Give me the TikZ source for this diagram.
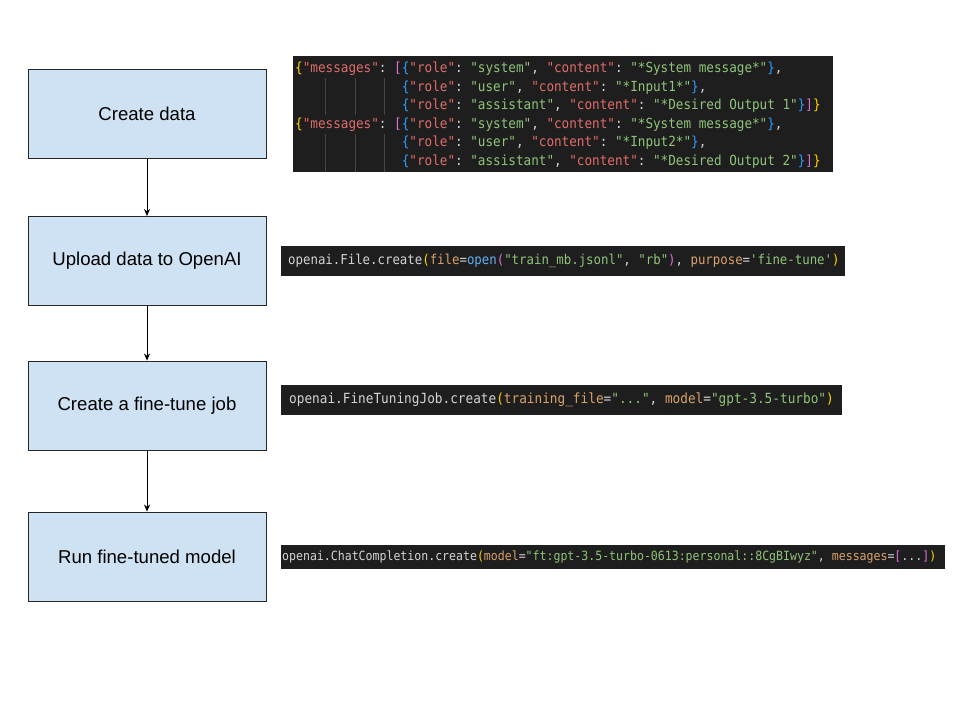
\documentclass[tikz,border=0pt]{standalone}
\usepackage{fontspec}
\setmainfont{Liberation Sans}
\setmonofont{DejaVu Sans Mono}[FakeStretch=0.91]
\usetikzlibrary{arrows.meta}
\definecolor{boxfill}{HTML}{CFE2F3}
\definecolor{codebg}{HTML}{1E1E1E}
\definecolor{ckey}{HTML}{E06C6C}
\definecolor{cstr}{HTML}{8FC47A}
\definecolor{cyel}{HTML}{FFD700}
\definecolor{cmag}{HTML}{DA70D6}
\definecolor{cblu}{HTML}{2F9BFF}
\definecolor{cpl}{HTML}{D4D4D4}
\definecolor{corg}{HTML}{D7A26C}
\definecolor{cfun}{HTML}{61AFEF}
\definecolor{cguide}{HTML}{454545}
\newcommand\K[1]{\textcolor{ckey}{#1}}
\newcommand\St[1]{\textcolor{cstr}{#1}}
\newcommand\Y[1]{\textcolor{cyel}{#1}}
\newcommand\M[1]{\textcolor{cmag}{#1}}
\newcommand\B[1]{\textcolor{cblu}{#1}}
\newcommand\Or[1]{\textcolor{corg}{#1}}
\newcommand\Fn[1]{\textcolor{cfun}{#1}}
\begin{document}
\begin{tikzpicture}[x=1pt,y=-1pt,
  stepbox/.style={draw=black!85,line width=0.9pt,fill=boxfill,minimum width=238pt,minimum height=89pt,inner sep=0pt,font=\fontsize{18.6}{22}\selectfont},
  codeline/.style={anchor=west,inner sep=0pt,text=cpl},
  flow/.style={draw=black,line width=0.8pt,-{Stealth[length=7pt,width=6pt]}},
  guide/.style={draw=cguide,line width=0.7pt}]
\useasboundingbox (0,0) rectangle (960,720);
\fill[white] (0,0) rectangle (960,720);

% flow boxes
\node[stepbox] (s1) at (147,114) {Create data};
\node[stepbox] (s2) at (147,261) {Upload data to OpenAI};
\node[stepbox] (s3) at (147,405.5) {Create a fine-tune job};
\node[stepbox] (s4) at (147,556.5) {Run fine-tuned model};
\draw[flow] (s1.south) -- (s2.north);
\draw[flow] (s2.south) -- (s3.north);
\draw[flow] (s3.south) -- (s4.north);

% code block 1
\fill[codebg] (293,56) rectangle (833,172);
\draw[guide] (325,78) -- (325,115) (355,78) -- (355,115) (384,78) -- (384,115);
\draw[guide] (325,134) -- (325,172) (355,134) -- (355,172) (384,134) -- (384,172);
\begin{scope}[every node/.style={codeline,font=\ttfamily\fontsize{13.9}{16}\selectfont}]
\node (c1a) at (295,69) {\Y{\{}\K{"messages"}: \M{[}\B{\{}\K{"role"}: \St{"system"}, \K{"content"}: \St{"*System message*"}\B{\}},};
\node (c1b) at (295,87.5) {\hphantom{\{"messages": [}\B{\{}\K{"role"}: \St{"user"}, \K{"content"}: \St{"*Input1*"}\B{\}},};
\node (c1c) at (295,106) {\hphantom{\{"messages": [}\B{\{}\K{"role"}: \St{"assistant"}, \K{"content"}: \St{"*Desired Output 1"}\B{\}}\M{]}\Y{\}}};
\node (c1d) at (295,124.5) {\Y{\{}\K{"messages"}: \M{[}\B{\{}\K{"role"}: \St{"system"}, \K{"content"}: \St{"*System message*"}\B{\}},};
\node (c1e) at (295,143) {\hphantom{\{"messages": [}\B{\{}\K{"role"}: \St{"user"}, \K{"content"}: \St{"*Input2*"}\B{\}},};
\node (c1f) at (295,161.5) {\hphantom{\{"messages": [}\B{\{}\K{"role"}: \St{"assistant"}, \K{"content"}: \St{"*Desired Output 2"}\B{\}}\M{]}\Y{\}}};
\end{scope}

% code block 2
\fill[codebg] (281,246) rectangle (845,276);
\node[codeline,font=\ttfamily\fontsize{13.6}{15}\selectfont] (c2) at (288,261)
 {openai.File.create\Y{(}\Or{file}=\Fn{open}\M{(}\St{"train\_mb.jsonl"}, \St{"rb"}\M{)}, \Or{purpose}=\St{'fine-tune'}\Y{)}};

% code block 3
\fill[codebg] (281,385) rectangle (842,415);
\node[codeline,font=\ttfamily\fontsize{14.0}{15}\selectfont] (c3) at (289,400)
 {openai.FineTuningJob.create\Y{(}\Or{training\_file}=\St{"..."}, \Or{model}=\St{"gpt-3.5-turbo"}\Y{)}};

% code block 4
\fill[codebg] (281,545) rectangle (945,569);
\node[codeline,font=\ttfamily\fontsize{12.7}{14}\selectfont] (c4) at (282,557)
 {openai.ChatCompletion.create\Y{(}\Or{model}=\St{"ft:gpt-3.5-turbo-0613:personal::8CgBIwyz"}, \Or{messages}=\M{[}...\M{]}\Y{)}};
\end{tikzpicture}
\end{document}
